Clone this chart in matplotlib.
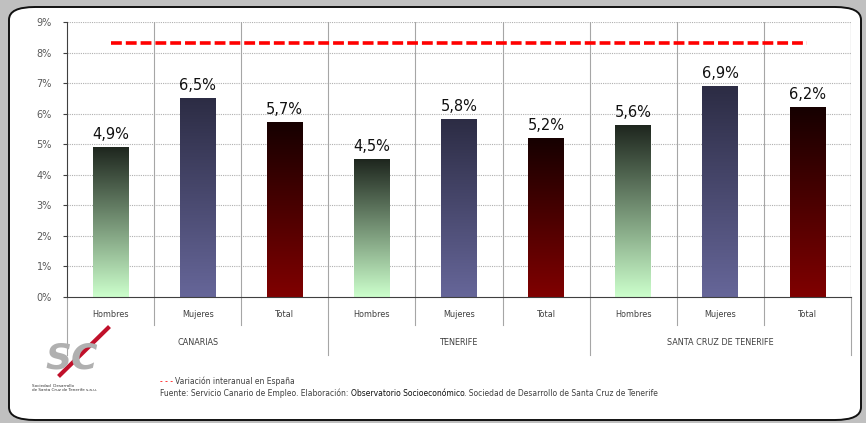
import numpy as np
import matplotlib.pyplot as plt
from matplotlib.colors import LinearSegmentedColormap
from matplotlib.patches import FancyBboxPatch

# ---- data ----
regions = ["CANARIAS", "TENERIFE", "SANTA CRUZ DE TENERIFE"]
series = ["Hombres", "Mujeres", "Total"]
values = [4.9, 6.5, 5.7, 4.5, 5.8, 5.2, 5.6, 6.9, 6.2]
spain_rate = 8.3

# bottom -> top gradient colours per series
grad = {
    "Hombres": ("#ccffcc", "#1e261e"),
    "Mujeres": ("#666699", "#2c2c44"),
    "Total": ("#800000", "#160000"),
}

small = dict(family="DejaVu Sans", stretch="condensed", fontsize=6.5)

W, H = 866, 423
fig = plt.figure(figsize=(W / 100, H / 100), dpi=100)
fig.patch.set_facecolor("#c0c0c0")

# white rounded panel
panel = FancyBboxPatch((9 / W, 3 / H), 852 / W, 413 / H,
                       boxstyle="round,pad=0,rounding_size=0.03",
                       transform=fig.transFigure, facecolor="white",
                       edgecolor="#111111", linewidth=1.4, zorder=-5)
fig.patches.append(panel)

x0, x1, ytop, ybot = 67, 851, 22, 297
ax = fig.add_axes([x0 / W, (H - ybot) / H, (x1 - x0) / W, (ybot - ytop) / H])
ax.set_facecolor("none")
ax.set_zorder(2)

n = len(values)
xs = np.arange(n)

# grid
for y in range(1, 10):
    ax.axhline(y, color="#b0b0b0", lw=0.8, ls=(0, (1, 1)), zorder=1)
for b in np.arange(0.5, n, 1.0):
    ax.axvline(b, color="#a6a6a6", lw=0.8, zorder=1)
ax.axvline(n - 0.5, color="#a6a6a6", lw=0.8, zorder=1)

# gradient bars
bw = 0.41
grad_img = np.linspace(0, 1, 256).reshape(-1, 1)
for i, v in enumerate(values):
    s = series[i % 3]
    cmap = LinearSegmentedColormap.from_list(s, list(grad[s]))
    ax.imshow(grad_img, cmap=cmap, origin="lower", aspect="auto",
              extent=(i - bw / 2, i + bw / 2, 0, v), zorder=2,
              interpolation="bilinear")
    ax.annotate(f"{v:.1f}%".replace(".", ","), (i, v), xytext=(0, 4),
                textcoords="offset points", ha="center", va="bottom",
                fontsize=10.5, color="#111111", zorder=3)
ax.set_xlim(-0.5, n - 0.5)
ax.set_ylim(0, 9)

# Spain reference line
ax.plot([xs[0], xs[-1]], [spain_rate, spain_rate], color="#ff0000", lw=2.6,
        ls=(0, (3, 1.1)), zorder=3)

# axes styling
for sp in ["top", "right"]:
    ax.spines[sp].set_visible(False)
ax.spines["left"].set_color("#404040")
ax.spines["bottom"].set_color("#404040")
ax.set_yticks(range(10))
ax.set_yticklabels([f"{t}%" for t in range(10)], fontsize=7, color="#595959")
ax.tick_params(axis="y", length=3, color="#404040", pad=8)
ax.set_xticks([])

# multi-level category axis
hpx = ybot - ytop
xt = ax.get_xaxis_transform()
for i in xs:
    ax.text(i, -17 / hpx, series[i % 3], transform=xt, ha="center",
            va="center", color="#404040", **small)
for b in np.arange(0.5, n - 1, 1.0):
    if b in (2.5, 5.5):
        continue
    ax.plot([b, b], [0, -28 / hpx], transform=xt, color="#a6a6a6", lw=0.8,
            clip_on=False)
for b in [-0.5, 2.5, 5.5, n - 0.5]:
    ax.plot([b, b], [0, -58 / hpx], transform=xt, color="#a6a6a6", lw=0.8,
            clip_on=False)
for g, name in enumerate(regions):
    ax.text(g * 3 + 1, -45 / hpx, name, transform=xt, ha="center",
            va="center", color="#404040", **small)

# footer
fig.canvas.draw()
r = fig.canvas.get_renderer()
foot = dict(small, fontsize=6.1)


def chain(x, y, parts):
    for txt, col in parts:
        t = fig.text(x / W, y, txt, color=col, va="center", **foot)
        x = t.get_window_extent(r).x1


fy1, fy2 = 1 - 381 / H, 1 - 393 / H
chain(160, fy1, [("- - - ", "#ff0000"),
                 ("Variación interanual en España", "#404040")])
chain(160, fy2, [("Fuente: Servicio Canario de Empleo. Elaboración: ", "#404040"),
                 ("Observatorio Socioeconómico", "#111111"),
                 (". Sociedad de Desarrollo de Santa Cruz de Tenerife", "#404040")])

# logo (approximation)
fig.text(72 / W, 1 - 358 / H, "SC", fontsize=26, style="italic",
         fontweight="bold", color="#b0b0b0", ha="center", va="center")
fig.lines.append(plt.Line2D([60 / W, 108 / W], [1 - 375 / H, 1 - 328 / H],
                            transform=fig.transFigure, color="#c0102a", lw=3))
fig.text(32 / W, 1 - 388 / H,
         "Sociedad  Desarrollo\nde Santa Cruz de Tenerife s.a.u.",
         fontsize=3, color="#333333", va="center", linespacing=1.0)

fig.savefig("out.png", dpi=100, facecolor=fig.get_facecolor())
